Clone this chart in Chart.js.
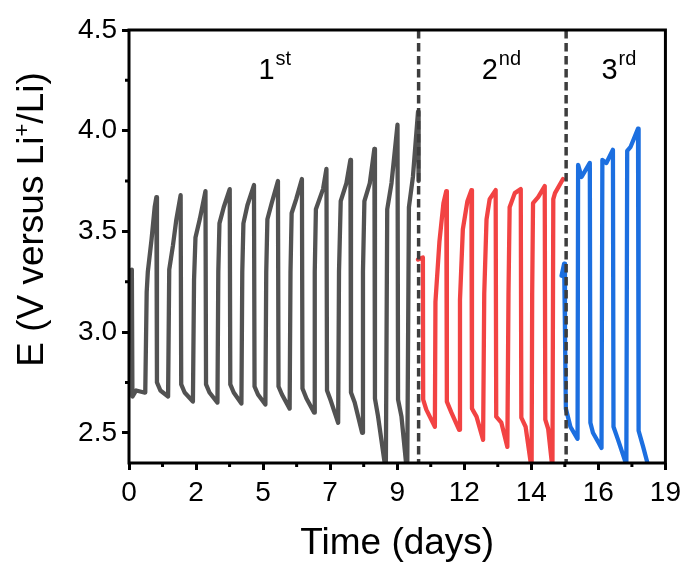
<!DOCTYPE html>
<html>
<head>
<meta charset="utf-8">
<script src="https://cdn.jsdelivr.net/npm/chart.js@4.4.1/dist/chart.umd.min.js"></script>
<style>
  body { margin: 0; background: #fff; }
</style>
</head>
<body>
<canvas id="myChart" width="687" height="568"></canvas>
<script>
// Galvanostatic cycling: time in days, E in V vs Li+/Li
// 1st run (grey)
const firstDays = [
  0.10, 0.12, 0.25, 0.53, 0.57, 0.62, 0.66, 0.79, 0.90, 0.96,
  0.98, 1.10, 1.37, 1.41, 1.54, 1.66, 1.81,
  1.83, 1.95, 2.24, 2.28, 2.33, 2.48, 2.68,
  2.70, 2.82, 3.10, 3.13, 3.17, 3.32, 3.53,
  3.55, 3.67, 3.94, 3.97, 4.01, 4.15, 4.38,
  4.40, 4.52, 4.78, 4.81, 4.85, 5.00, 5.22,
  5.24, 5.36, 5.63, 5.66, 5.70, 5.86, 6.06,
  6.08, 6.22, 6.49, 6.51, 6.55, 6.80, 6.92,
  6.94, 7.07, 7.33, 7.36, 7.42, 7.62, 7.76,
  7.78, 7.91, 8.17, 8.20, 8.25, 8.44, 8.60,
  8.62, 8.73, 8.96, 9.00, 9.05, 9.20, 9.41,
  9.43, 9.55, 9.71, 9.75, 9.81, 9.95, 10.13,
  10.15
];
const firstE = [
  3.31, 2.68, 2.71, 2.70, 2.70, 3.20, 3.30, 3.46, 3.62, 3.67,
  2.75, 2.71, 2.68, 3.31, 3.43, 3.56, 3.68,
  2.74, 2.70, 2.655, 3.26, 3.47, 3.56, 3.70,
  2.74, 2.70, 2.65, 3.30, 3.54, 3.62, 3.71,
  2.74, 2.70, 2.645, 3.30, 3.54, 3.63, 3.73,
  2.73, 2.69, 2.64, 3.30, 3.56, 3.64, 3.75,
  2.73, 2.69, 2.62, 3.30, 3.59, 3.66, 3.76,
  2.72, 2.67, 2.60, 3.30, 3.61, 3.71, 3.81,
  2.71, 2.66, 2.55, 3.30, 3.65, 3.74, 3.855,
  2.70, 2.65, 2.50, 3.30, 3.65, 3.74, 3.91,
  2.67, 2.58, 2.35, 2.28, 3.61, 3.74, 4.03,
  2.665, 2.58, 2.35, 2.28, 3.62, 3.77, 4.095,
  3.75
];
// 2nd run (red)
const secondDays = [
  10.13, 10.30, 10.31, 10.42, 10.72,
  10.74, 10.88, 11.02, 11.12,
  11.14, 11.30, 11.57,
  11.60, 11.70, 11.86, 12.00,
  12.02, 12.18, 12.41,
  12.45, 12.53, 12.64, 12.85,
  12.87, 13.05, 13.26,
  13.30, 13.34, 13.52, 13.73,
  13.75, 13.90, 14.08, 14.11,
  14.13, 14.16, 14.34, 14.57,
  14.59, 14.69, 14.82, 14.84,
  14.87, 14.93, 15.21
];
const secondE = [
  3.36, 3.37, 2.665, 2.615, 2.53,
  3.15, 3.45, 3.64, 3.70,
  2.655, 2.60, 2.515,
  3.16, 3.51, 3.65, 3.705,
  2.62, 2.58, 2.465,
  3.19, 3.56, 3.66, 3.705,
  2.58, 2.55, 2.43,
  3.19, 3.62, 3.69, 3.71,
  2.575, 2.53, 2.35, 2.30,
  3.19, 3.64, 3.67, 3.725,
  2.565, 2.52, 2.35, 2.30,
  3.66, 3.69, 3.76
];
// 3rd run (blue)
const thirdDays = [
  15.16, 15.25, 15.28, 15.31, 15.47, 15.72,
  15.74, 15.86, 16.15,
  16.17, 16.26, 16.56,
  16.59, 16.73, 16.96,
  16.98, 17.14, 17.41, 17.43,
  17.46, 17.58, 17.84,
  17.86, 18.02, 18.17, 18.20
];
const thirdE = [
  3.28, 3.34, 3.00, 2.62, 2.53, 2.47,
  3.83, 3.77, 3.84,
  2.55, 2.50, 2.425,
  3.855, 3.84, 3.905,
  2.53, 2.465, 2.35, 2.30,
  3.90, 3.92, 4.01,
  2.51, 2.43, 2.35, 2.30
];

const dividerDays = [10.15, 15.32];
const stageNumbers = ['1', '2', '3'];
const stageSuffixes = ['st', 'nd', 'rd'];

const xTickValues = [0, 2.35, 4.7, 7.05, 9.4, 11.75, 14.1, 16.45, 18.8];
const xTickLabels = ['0', '2', '5', '7', '9', '12', '14', '16', '19'];
const yTickValues = [2.5, 3.0, 3.5, 4.0, 4.5];
const yTickLabels = ['2.5', '3.0', '3.5', '4.0', '4.5'];

const FONT = '"Liberation Sans", Arial, sans-serif';
const X_MIN = 0, X_MAX = 18.8, Y_MIN = 2.35, Y_MAX = 4.5;

function toPoints(days, volts) {
  return days.map((d, i) => ({ x: d, y: volts[i] }));
}

// frame, minor ticks, stage labels and the y title with its superscript
const decorations = {
  id: 'decorations',
  afterDraw(chart, args, opts) {
    const { ctx, chartArea: a, scales: { x, y } } = chart;
    ctx.save();
    ctx.strokeStyle = '#000';
    ctx.lineWidth = 3;
    ctx.strokeRect(a.left, a.top, a.right - a.left, a.bottom - a.top);

    // minor ticks half way between the major ones
    ctx.beginPath();
    for (let i = 0; i < xTickValues.length - 1; i++) {
      const px = x.getPixelForValue((xTickValues[i] + xTickValues[i + 1]) / 2);
      ctx.moveTo(px, a.bottom);
      ctx.lineTo(px, a.bottom + 4);
    }
    for (let i = 0; i < yTickValues.length; i++) {
      const v = yTickValues[i] - 0.25;
      if (v < Y_MIN) continue;
      const py = y.getPixelForValue(v);
      ctx.moveTo(a.left, py);
      ctx.lineTo(a.left - 4, py);
    }
    ctx.stroke();

    // 1st / 2nd / 3rd
    ctx.fillStyle = '#000';
    ctx.textBaseline = 'alphabetic';
    ctx.textAlign = 'left';
    stageNumbers.forEach((num, i) => {
      ctx.font = '29px ' + FONT;
      const wm = ctx.measureText(num).width;
      ctx.font = '20px ' + FONT;
      const ws = ctx.measureText(stageSuffixes[i]).width;
      const cx = x.getPixelForValue(opts.labelDays[i]);
      const left = cx - (wm + ws + 1) / 2;
      ctx.font = '29px ' + FONT;
      ctx.fillText(num, left, a.top + 49);
      ctx.font = '20px ' + FONT;
      ctx.fillText(stageSuffixes[i], left + wm + 1, a.top + 35);
    });

    // y title: E (V versus Li+/Li)
    const parts = [['E (V versus Li', 37, 0], ['+', 22, -14], ['/Li)', 37, 0]];
    let total = 0;
    parts.forEach(p => { ctx.font = p[1] + 'px ' + FONT; total += ctx.measureText(p[0]).width; });
    ctx.translate(opts.yTitleX, (a.top + a.bottom) / 2 - 27);
    ctx.rotate(-Math.PI / 2);
    let pos = -total / 2;
    parts.forEach(p => {
      ctx.font = p[1] + 'px ' + FONT;
      ctx.fillText(p[0], pos, p[2]);
      pos += ctx.measureText(p[0]).width;
    });
    ctx.restore();
  }
};

const lineStyle = {
  pointRadius: 0,
  borderWidth: 4.3,
  tension: 0,
  borderJoinStyle: 'round',
  borderCapStyle: 'round',
  fill: false
};

const datasets = dividerDays.map(d => ({
  data: [{ x: d, y: Y_MAX }, { x: d, y: Y_MIN }],
  borderColor: '#3d3d3d',
  borderWidth: 3.5,
  borderDash: [8.5, 4.5],
  pointRadius: 0,
  fill: false
}));
datasets.push(Object.assign({ label: '1st', data: toPoints(firstDays, firstE), borderColor: '#525252' }, lineStyle));
datasets.push(Object.assign({ label: '2nd', data: toPoints(secondDays, secondE), borderColor: '#f24343' }, lineStyle));
datasets.push(Object.assign({ label: '3rd', data: toPoints(thirdDays, thirdE), borderColor: '#1c6fe0' }, lineStyle));

const ctx = document.getElementById('myChart').getContext('2d');
const myChart = new Chart(ctx, {
  type: 'line',
  data: { datasets: datasets },
  options: {
    responsive: false,
    animation: false,
    layout: { padding: { top: 30, right: 21, left: 0, bottom: 0 } },
    plugins: {
      legend: { display: false },
      tooltip: { enabled: false },
      decorations: { labelDays: [5.11, 13.05, 17.17], yTitleX: 43 }
    },
    scales: {
      x: {
        type: 'linear',
        min: X_MIN,
        max: X_MAX,
        afterBuildTicks: s => { s.ticks = xTickValues.map(v => ({ value: v })); },
        afterFit: s => { s.height = 105; },
        border: { display: false },
        grid: { drawOnChartArea: false, drawTicks: true, tickLength: 7, lineWidth: 3, color: '#000' },
        ticks: {
          color: '#000',
          padding: 6,
          maxRotation: 0,
          font: { family: FONT, size: 28 },
          callback: (value, index) => xTickLabels[index]
        },
        title: {
          display: true,
          text: 'Time (days)',
          color: '#000',
          font: { family: FONT, size: 37 },
          padding: { top: 0, bottom: 2 }
        }
      },
      y: {
        type: 'linear',
        min: Y_MIN,
        max: Y_MAX,
        afterBuildTicks: s => { s.ticks = yTickValues.map(v => ({ value: v })); },
        afterFit: s => { s.width = 129; },
        border: { display: false },
        grid: { drawOnChartArea: false, drawTicks: true, tickLength: 7, lineWidth: 3, color: '#000' },
        ticks: {
          color: '#000',
          padding: 5,
          font: { family: FONT, size: 28 },
          callback: (value, index) => yTickLabels[index]
        }
      }
    }
  },
  plugins: [decorations]
});
</script>
</body>
</html>
